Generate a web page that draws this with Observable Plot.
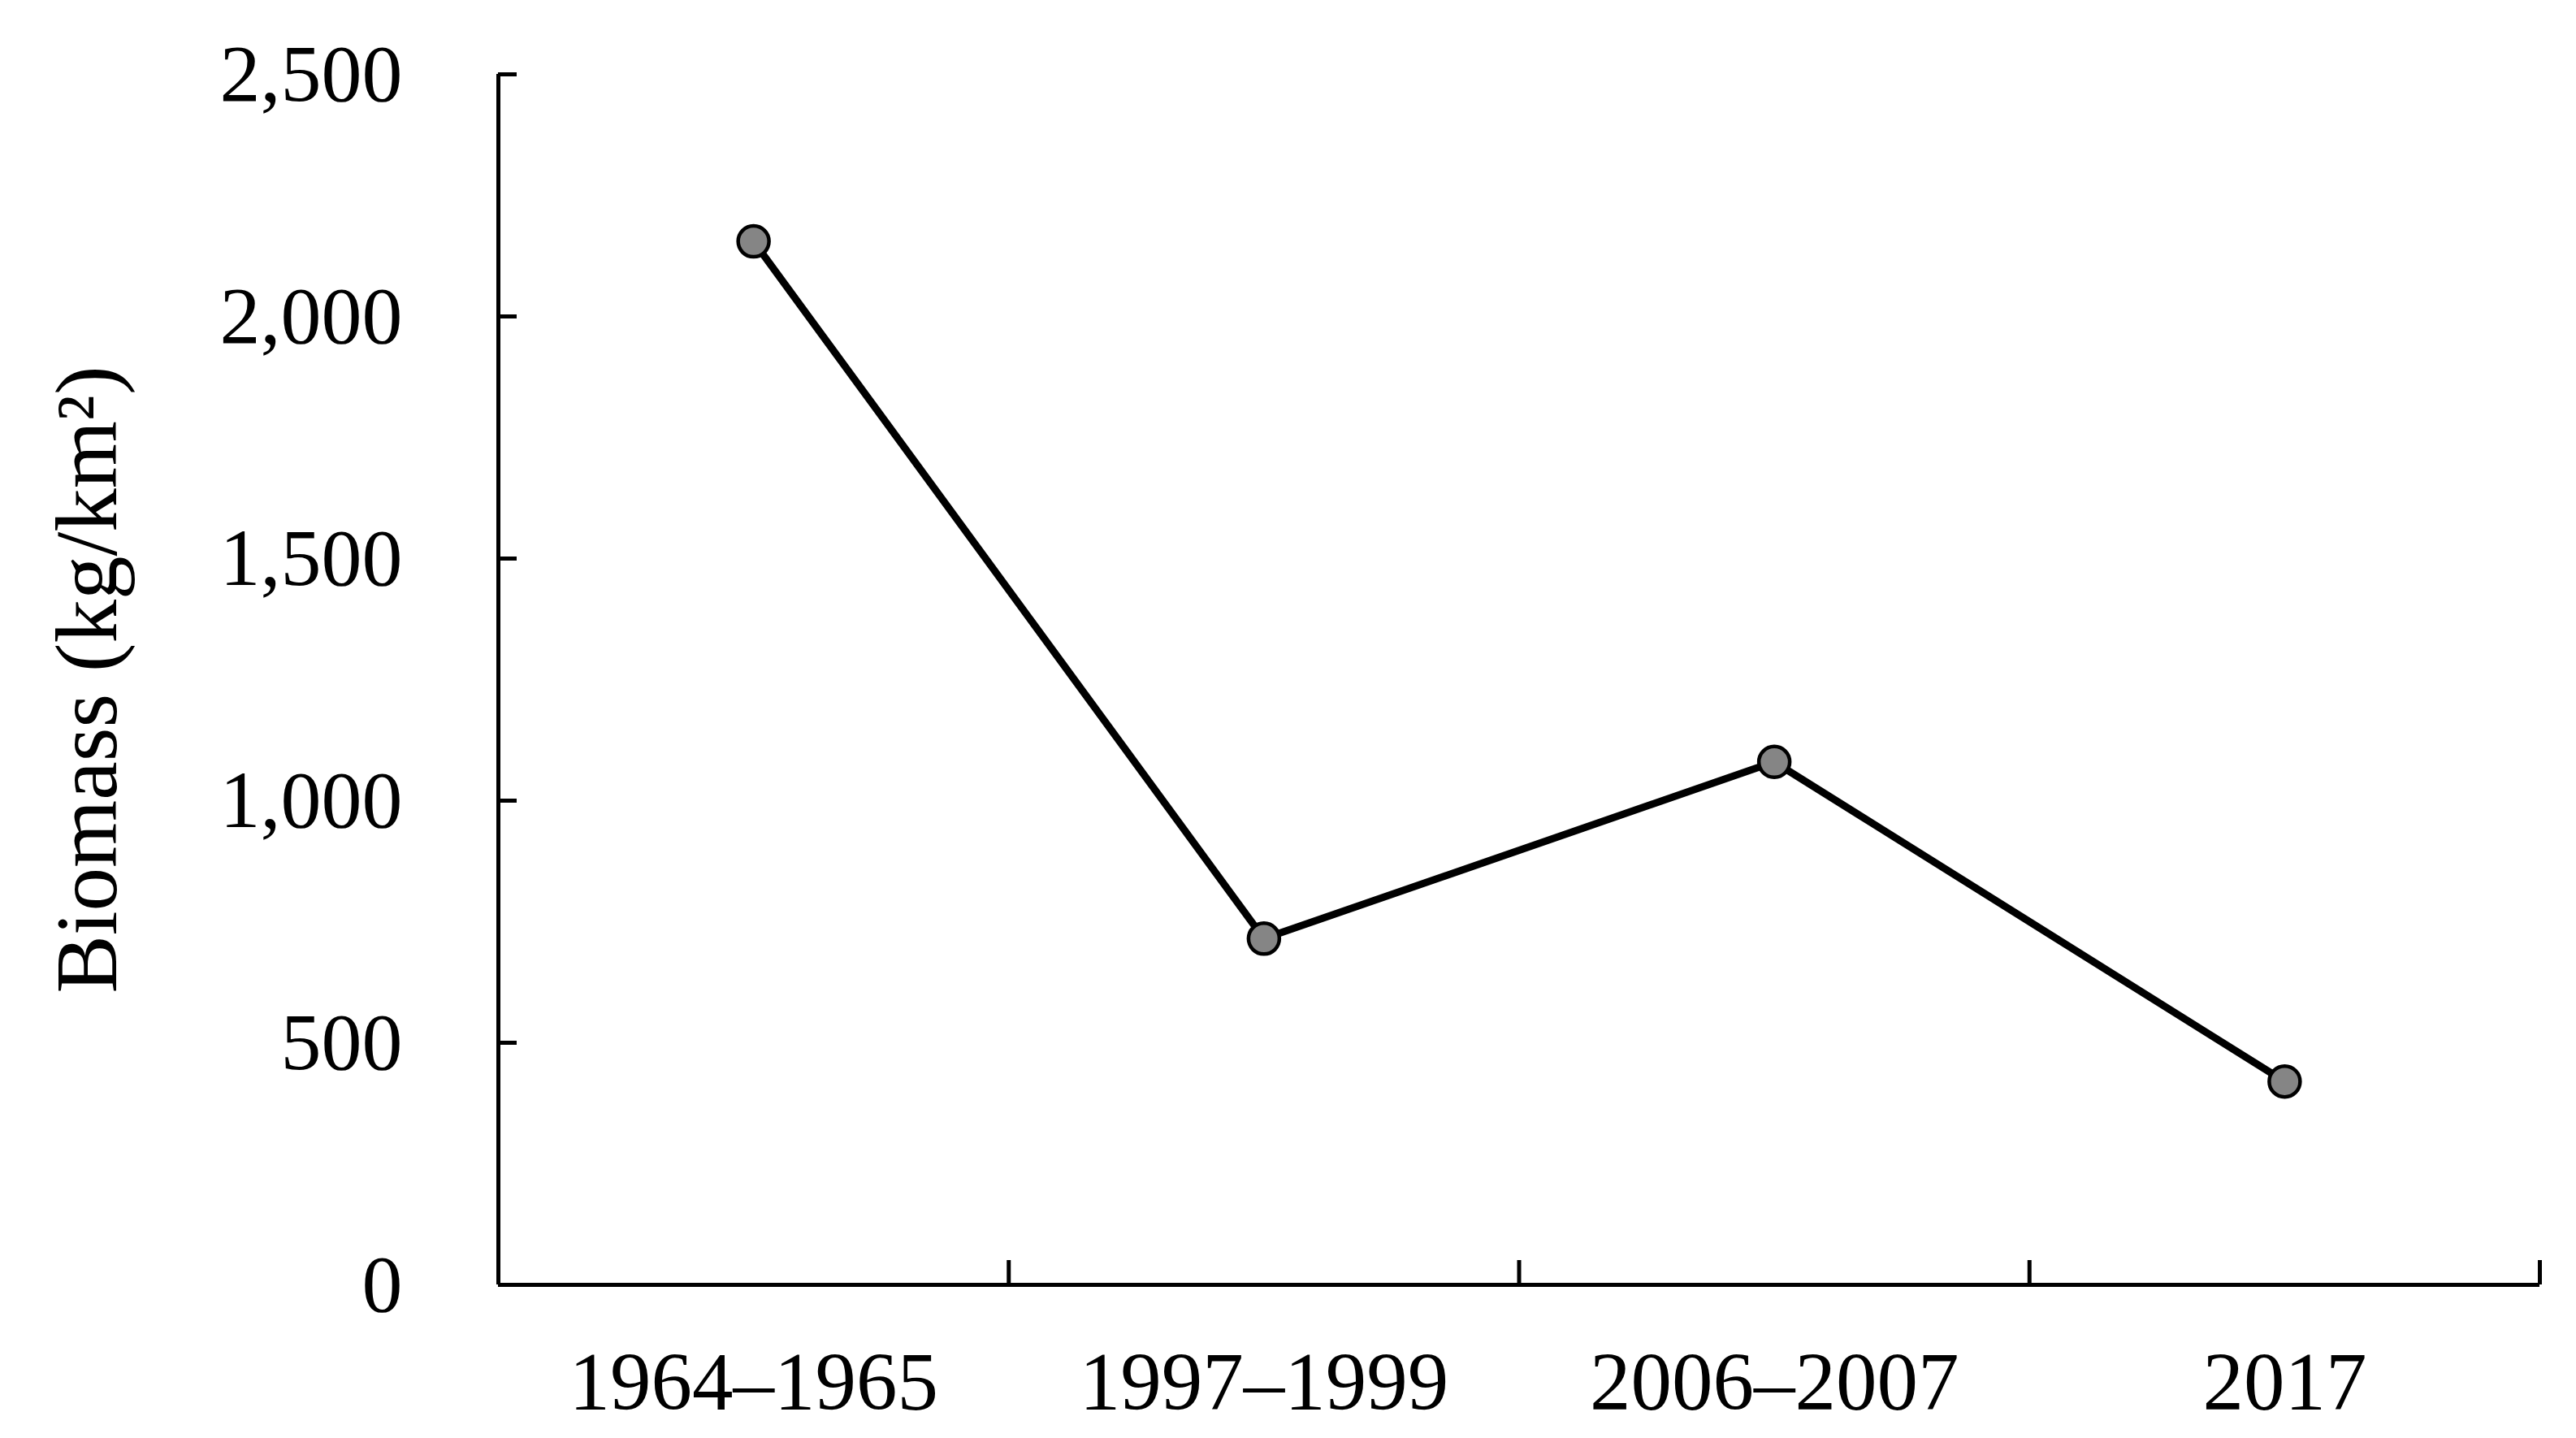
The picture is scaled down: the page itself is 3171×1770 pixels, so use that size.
<!DOCTYPE html>
<html>
<head>
<meta charset="utf-8">
<script src="https://cdn.jsdelivr.net/npm/d3@7"></script>
<script src="https://cdn.jsdelivr.net/npm/@observablehq/plot@0.6"></script>
<style>
  html, body { margin: 0; padding: 0; background: #fff; }
  svg { display: block; }
</style>
</head>
<body>
<div id="chart"></div>
<script>
const categories = ["1964–1965", "1997–1999", "2006–2007", "2017"];
const biomass = [2155, 715, 1080, 420];
const yTicks = [0, 500, 1000, 1500, 2000, 2500];
const yLabel = "Biomass (kg/km²)";

const data = categories.map((c, i) => ({cat: c, idx: i + 0.5, value: biomass[i]}));
const boundaries = categories.map((c, i) => i + 1);
const catCenters = categories.map((c, i) => i + 0.5);

const W = 3171, H = 1770;
const mL = 613, mR = 45, mT = 91, mB = 189;
const plotW = W - mL - mR, plotH = H - mT - mB;

const chart = Plot.plot({
  width: W,
  height: H,
  marginLeft: mL,
  marginRight: mR,
  marginTop: mT,
  marginBottom: mB,
  style: {fontFamily: "'Liberation Serif', 'Times New Roman', serif", fontSize: "100px", color: "#000", background: "#fff"},
  x: {domain: [0, categories.length]},
  y: {domain: [0, 2500]},
  marks: [
    Plot.axisY({ticks: yTicks, tickSize: 0, tickPadding: 118, tickFormat: d3.format(","), label: null, fontSize: 100}),
    Plot.axisY({ticks: [], label: yLabel, labelAnchor: "center", labelArrow: "none", labelOffset: 546, fontSize: 107}),
    Plot.axisX({ticks: catCenters, tickSize: 0, tickPadding: 82, tickFormat: d => categories[Math.floor(d)], label: null, fontSize: 101}),
    Plot.tickY(yTicks, {y: d => d, stroke: "#000", strokeWidth: 5, insetRight: plotW - 23}),
    Plot.tickX(boundaries, {x: d => d, stroke: "#000", strokeWidth: 5, insetTop: plotH - 30}),
    Plot.ruleX([0], {stroke: "#000", strokeWidth: 5}),
    Plot.ruleY([0], {stroke: "#000", strokeWidth: 5}),
    Plot.line(data, {x: "idx", y: "value", stroke: "#000", strokeWidth: 9}),
    Plot.dot(data, {x: "idx", y: "value", r: 19, fill: "#858585", stroke: "#000", strokeWidth: 4.5})
  ]
});
document.getElementById("chart").appendChild(chart);
</script>
</body>
</html>
